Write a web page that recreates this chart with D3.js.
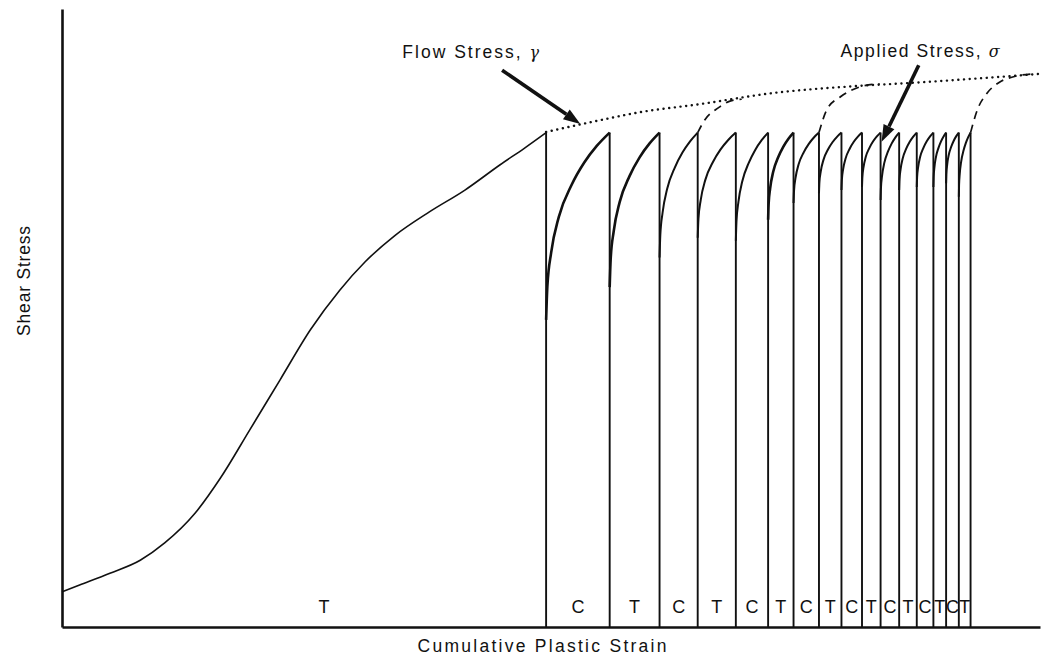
<!DOCTYPE html>
<html>
<head>
<meta charset="utf-8">
<script src="https://cdn.jsdelivr.net/npm/d3@7"></script>
<style>
  html, body { margin: 0; padding: 0; background: #fff; }
  svg { display: block; }
  text { font-family: "Liberation Sans", Arial, Helvetica, sans-serif; fill: #111; }
</style>
</head>
<body>
<svg id="chart" width="1045" height="660"></svg>
<script>
// ---- data (strain units 0-100, stress units 0-100) ----
const monotonicStrain = [0, 1.8, 4.9, 8.0, 10.5, 13.6, 16.2, 19.2, 22.3, 25.4, 28.4, 31.0, 34.0, 37.6, 41.2, 44.8, 47.3, 49.5];
const monotonicStress = [5.7, 6.8, 8.7, 10.8, 13.6, 18.4, 24.1, 31.9, 40.0, 48.1, 54.5, 59.1, 63.3, 67.2, 70.7, 74.8, 77.5, 80.0];

const reversalStrain = [49.5, 56.0, 61.1, 65.0, 68.9, 72.2, 74.8, 77.4, 79.7, 81.8, 83.7, 85.6, 87.4, 89.1, 90.4, 91.7, 92.9];
const cycleLowStress = [49.7, 55.0, 59.8, 63.0, 62.5, 65.9, 68.6, 70.2, 70.7, 71.2, 69.1, 70.7, 71.2, 71.2, 71.8, 69.6];
const cyclePeakStress = 80.0;
const cycleLabels = ["C", "T", "C", "T", "C", "T", "C", "T", "C", "T", "C", "T", "C", "T", "C", "T"];
const firstLabel = "T";
// shape of one reloading branch, read from the cycles (fraction of width, fraction of rise)
const cycleShapeT = [0, 0.02, 0.08, 0.2, 0.4, 0.6, 0.8, 1];
const cycleShapeF = [0, 0.18, 0.36, 0.55, 0.72, 0.84, 0.93, 1];

const flowStrain = [49.5, 55.0, 59.1, 65.2, 72.7, 80.9, 86.4, 93.1, 100];
const flowStress = [80.1, 82.0, 83.3, 84.6, 86.4, 87.5, 88.0, 88.7, 89.5];

const dash1Strain = [65.0, 65.7, 67.1, 68.3, 69.5];
const dash1Stress = [80.0, 82.0, 84.0, 85.1, 85.4];
const dash2Strain = [77.4, 78.2, 79.6, 81.6, 83.6];
const dash2Stress = [80.0, 83.7, 85.8, 87.4, 87.9];
const dash3Strain = [92.9, 93.6, 94.6, 95.9, 97.2, 99.3];
const dash3Stress = [80.0, 83.7, 86.4, 88.2, 89.0, 89.5];

const xTitle = "Cumulative Plastic Strain";
const yTitle = "Shear Stress";
const flowText = "Flow Stress, ";
const flowSymbol = "γ";
const appliedText = "Applied Stress, ";
const appliedSymbol = "σ";

// ---- layout ----
const svg = d3.select("#chart");
const margin = { left: 62, right: 5, top: 9, bottom: 33 };
const W = 1045, H = 660;
const x = d3.scaleLinear().domain([0, 100]).range([margin.left, W - margin.right]);
const y = d3.scaleLinear().domain([0, 100]).range([H - margin.bottom, margin.top]);

const smooth = d3.line().x(d => x(d[0])).y(d => y(d[1])).curve(d3.curveMonotoneX);
const zip = (a, b) => a.map((v, i) => [v, b[i]]);

// axes (no ticks)
svg.append("g").attr("transform", `translate(0,${y(0)})`)
  .call(d3.axisBottom(x).tickValues([]).tickSizeOuter(0))
  .select(".domain").attr("stroke", "#111").attr("stroke-width", 2.6);
svg.append("g").attr("transform", `translate(${x(0)},0)`)
  .call(d3.axisLeft(y).tickValues([]).tickSizeOuter(0))
  .select(".domain").attr("stroke", "#111").attr("stroke-width", 2.6);

// monotonic loading curve
svg.append("path").datum(zip(monotonicStrain, monotonicStress))
  .attr("d", smooth).attr("fill", "none").attr("stroke", "#111").attr("stroke-width", 1.6);

// vertical unloading lines
svg.append("g").selectAll("line").data(reversalStrain).join("line")
  .attr("x1", d => x(d)).attr("x2", d => x(d))
  .attr("y1", y(0)).attr("y2", y(cyclePeakStress))
  .attr("stroke", "#111").attr("stroke-width", 1.9);

// reloading branches
const cycles = cycleLowStress.map((low, i) => {
  const x0 = reversalStrain[i], x1 = reversalStrain[i + 1];
  return cycleShapeT.map((t, k) => [x0 + t * (x1 - x0), low + cycleShapeF[k] * (cyclePeakStress - low)]);
});
svg.append("g").selectAll("path").data(cycles).join("path")
  .attr("d", smooth).attr("fill", "none").attr("stroke", "#111")
  .attr("stroke-width", (d, i) => (i === 0 || i === 1 || i === 5 ? 2.6 : 2.0));

// flow stress (dotted)
svg.append("path").datum(zip(flowStrain, flowStress))
  .attr("d", smooth).attr("fill", "none").attr("stroke", "#111")
  .attr("stroke-width", 2.4).attr("stroke-linecap", "round")
  .attr("stroke-dasharray", "0.1,5.6");

// dashed continuation curves
[[dash1Strain, dash1Stress], [dash2Strain, dash2Stress], [dash3Strain, dash3Stress]].forEach(([s, t]) => {
  svg.append("path").datum(zip(s, t))
    .attr("d", smooth).attr("fill", "none").attr("stroke", "#111")
    .attr("stroke-width", 1.7).attr("stroke-dasharray", "8,6");
});

// cycle labels
const labelY = y(0) - 14;
svg.append("text").attr("x", x((monotonicStrain[0] + reversalStrain[0]) / 2) + 20).attr("y", labelY)
  .attr("text-anchor", "middle").attr("font-size", 18).text(firstLabel);
svg.append("g").selectAll("text").data(cycleLabels).join("text")
  .attr("x", (d, i) => x((reversalStrain[i] + reversalStrain[i + 1]) / 2))
  .attr("y", labelY).attr("text-anchor", "middle").attr("font-size", 18).text(d => d);

// axis titles
svg.append("text").attr("x", 542).attr("y", 652)
  .attr("text-anchor", "middle").attr("font-size", 17.5)
  .attr("textLength", 249).attr("lengthAdjust", "spacing").text(xTitle);
svg.append("text").attr("transform", `translate(30,${y(56)}) rotate(-90)`)
  .attr("text-anchor", "middle").attr("font-size", 17.5)
  .attr("textLength", 110).attr("lengthAdjust", "spacing").text(yTitle);

// annotations
const ft = svg.append("text").attr("x", x(34.8)).attr("y", y(92.1)).attr("font-size", 17.5);
ft.append("tspan").text(flowText).attr("letter-spacing", 2.0);
ft.append("tspan").attr("font-family", "DejaVu Serif").attr("font-style", "italic").attr("font-size", 16).text(flowSymbol);
const at = svg.append("text").attr("x", x(79.6)).attr("y", y(92.2)).attr("font-size", 17.5);
at.append("tspan").text(appliedText).attr("letter-spacing", 1.6);
at.append("tspan").attr("font-family", "DejaVu Serif").attr("font-style", "italic").attr("font-size", 16).text(appliedSymbol);

function arrow(t0, s0, t1, s1) {
  const xa = x(t0), ya = y(s0), xb = x(t1), yb = y(s1);
  const ang = Math.atan2(yb - ya, xb - xa);
  const L = 17, Wd = 6;
  const bx = xb - L * Math.cos(ang), by = yb - L * Math.sin(ang);
  svg.append("line").attr("x1", xa).attr("y1", ya).attr("x2", bx).attr("y2", by)
    .attr("stroke", "#111").attr("stroke-width", 3.6);
  svg.append("path").attr("d", d3.line()([
    [xb, yb],
    [bx + Wd * Math.sin(ang), by - Wd * Math.cos(ang)],
    [bx - Wd * Math.sin(ang), by + Wd * Math.cos(ang)]
  ]) + "Z").attr("fill", "#111");
}
arrow(45.0, 90.1, 53.0, 81.4);
arrow(87.6, 90.9, 83.8, 78.5);
</script>
</body>
</html>
